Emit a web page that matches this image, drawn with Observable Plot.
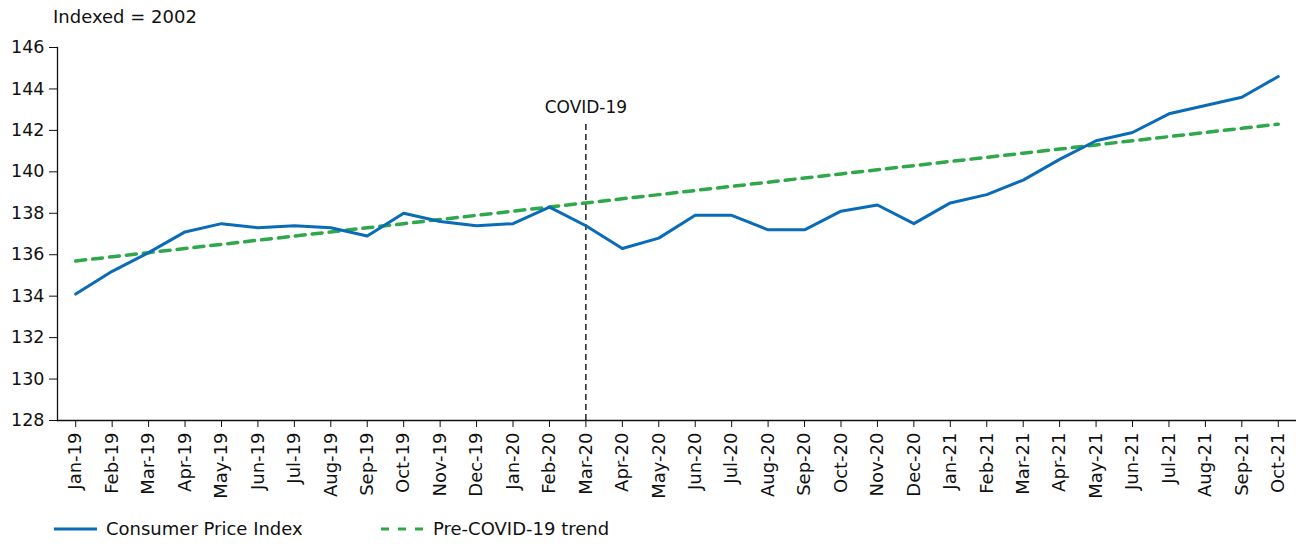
<!DOCTYPE html>
<html>
<head>
<meta charset="utf-8">
<script src="https://cdn.jsdelivr.net/npm/d3@7"></script>
<script src="https://cdn.jsdelivr.net/npm/@observablehq/plot@0.6"></script>
<style>
  body { margin: 0; background: #fff; font-family: "DejaVu Sans", sans-serif; }
  #wrap { position: relative; width: 1296px; height: 544px; }
  #sub { position: absolute; left: 53px; top: 6px; font-size: 18px; color: #111; }
  #legend { position: absolute; left: 54px; top: 518px; font-size: 18px; color: #111; display: flex; align-items: center; }
  .item { display: flex; align-items: center; }
  .item svg { margin-right: 9px; }
</style>
</head>
<body>
<div id="wrap">
  <div id="chart"></div>
  <div id="sub">Indexed = 2002</div>
  <div id="legend">
    <div class="item" style="width:327px"><svg width="43" height="10"><line x1="0" y1="5" x2="43" y2="5" stroke="#0a6bb8" stroke-width="3"/></svg>Consumer Price Index</div>
    <div class="item"><svg width="43" height="10"><line x1="0" y1="5" x2="42" y2="5" stroke="#2ea84a" stroke-width="3" stroke-dasharray="8,9"/></svg>Pre-COVID-19 trend</div>
  </div>
</div>
<script>
const months = ["Jan-19","Feb-19","Mar-19","Apr-19","May-19","Jun-19","Jul-19","Aug-19","Sep-19","Oct-19","Nov-19","Dec-19",
  "Jan-20","Feb-20","Mar-20","Apr-20","May-20","Jun-20","Jul-20","Aug-20","Sep-20","Oct-20","Nov-20","Dec-20",
  "Jan-21","Feb-21","Mar-21","Apr-21","May-21","Jun-21","Jul-21","Aug-21","Sep-21","Oct-21"];
const cpi = [134.1,135.2,136.1,137.1,137.5,137.3,137.4,137.3,136.9,138.0,137.6,137.4,
  137.5,138.3,137.4,136.3,136.8,137.9,137.9,137.2,137.2,138.1,138.4,137.5,
  138.5,138.9,139.6,140.6,141.5,141.9,142.8,143.2,143.6,144.6];
const trend = [135.7,135.9,136.1,136.3,136.5,136.7,136.9,137.1,137.3,137.5,137.7,137.9,
  138.1,138.3,138.5,138.7,138.9,139.1,139.3,139.5,139.7,139.9,140.1,140.3,
  140.5,140.7,140.9,141.1,141.3,141.5,141.7,141.9,142.1,142.3];
const yTicks = [128,130,132,134,136,138,140,142,144,146];
const covidMonth = "Mar-20";
const covidLabel = "COVID-19";

const rows = months.map((m, i) => ({month: m, cpi: cpi[i], trend: trend[i]}));

const chart = Plot.plot({
  width: 1296,
  height: 500,
  marginTop: 47,
  marginBottom: 80,
  marginLeft: 57,
  marginRight: 0,
  style: {fontFamily: '"DejaVu Sans", sans-serif', fontSize: "17px", color: "#111"},
  x: {type: "point", domain: months, padding: 0.5, round: false, label: null},
  y: {domain: [128, 146], label: null},
  marks: [
    Plot.axisY({ticks: yTicks, tickSize: 8, tickPadding: 5, label: null, fontSize: 17.5}),
    Plot.axisX({tickSize: 7, tickPadding: 5, tickRotate: -90, label: null, fontSize: 18}),
    Plot.ruleY([128], {stroke: "#111", strokeWidth: 1.3}),
    Plot.frame({anchor: "left", stroke: "#111", strokeWidth: 1.3}),
    Plot.ruleX([covidMonth], {y1: 128, y2: 142.3, stroke: "#000", strokeWidth: 1.3, strokeDasharray: "6,4"}),
    Plot.text([covidLabel], {x: () => covidMonth, y: () => 143.1, text: d => d, fontSize: 17, fill: "#111"}),
    Plot.line(rows, {x: "month", y: "trend", stroke: "#2ea84a", strokeWidth: 3.5, strokeDasharray: "10,7"}),
    Plot.line(rows, {x: "month", y: "cpi", stroke: "#0a6bb8", strokeWidth: 3})
  ]
});
document.getElementById("chart").appendChild(chart);
</script>
</body>
</html>
